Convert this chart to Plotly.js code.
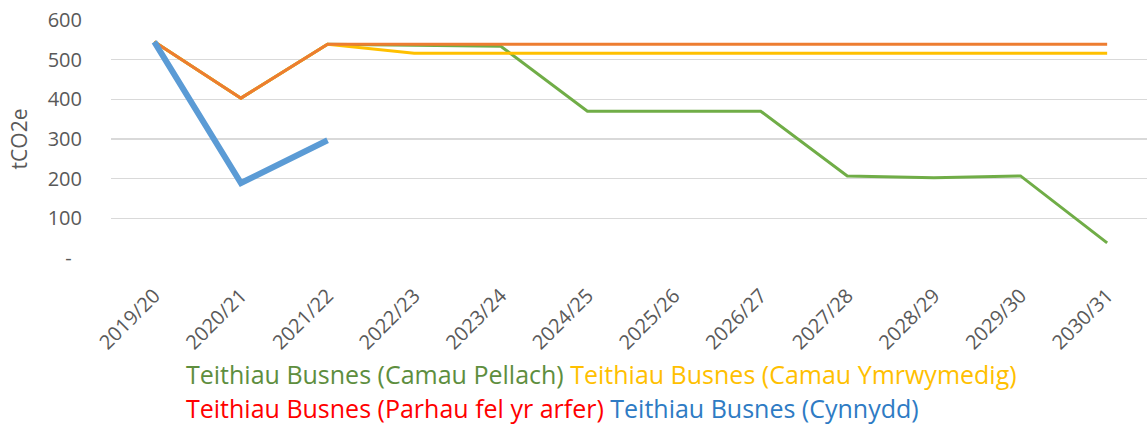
<!DOCTYPE html>
<html>
<head>
<meta charset="utf-8">
<script src="https://cdn.plot.ly/plotly-3.0.1.min.js"></script>
<style>html,body{margin:0;padding:0;background:#fff;}#chart{width:1147px;height:426px;}</style>
</head>
<body>
<div id="chart"></div>
<script>
const years = ["2019/20","2020/21","2021/22","2022/23","2023/24","2024/25","2025/26","2026/27","2027/28","2028/29","2029/30","2030/31"];
const seriesNames = ["Teithiau Busnes (Camau Pellach)","Teithiau Busnes (Camau Ymrwymedig)","Teithiau Busnes (Parhau fel yr arfer)","Teithiau Busnes (Cynnydd)"];
const camauPellach = [545, 403, 539, 537, 534, 370, 370, 370, 207, 202, 207, 38];
const camauYmrwymedig = [545, 403, 539, 516, 516, 516, 516, 516, 516, 516, 516, 516];
const parhauFelYrArfer = [545, 403, 539, 539, 539, 539, 539, 539, 539, 539, 539, 539];
const cynnydd = [545, 189, 297];
const yTickVals = [0, 100, 200, 300, 400, 500, 600];
const yTickText = ["-\u00a0\u00a0", "100", "200", "300", "400", "500", "600"];

const lineColors = ["#70AD47", "#FFC000", "#ED7D31", "#5B9BD5"];
const textColors = ["#5E8E3E", "#FFC000", "#FF0000", "#2E7BC4"];
const widths = [3, 3, 3, 6];
const values = [camauPellach, camauYmrwymedig, parhauFelYrArfer, cynnydd];

const traces = values.map((v, i) => ({
  type: "scatter", mode: "lines",
  x: years.slice(0, v.length), y: v,
  name: seriesNames[i],
  line: {color: lineColors[i], width: widths[i]},
  showlegend: false, hoverinfo: "skip"
}));

const font = "Open Sans, sans-serif";
const span = (i) => '<span style="color:' + textColors[i] + '">' + seriesNames[i] + '</span>';

const layout = {
  width: 1147, height: 426,
  margin: {l: 111, r: 0, t: 20, b: 168},
  paper_bgcolor: "#fff", plot_bgcolor: "#fff",
  font: {family: font, color: "#595959", size: 20},
  xaxis: {
    type: "category", categoryorder: "array", categoryarray: years,
    range: [-0.5, 11.46], showgrid: false, zeroline: false, showline: false,
    tickangle: -45, ticks: "", ticklabelstandoff: 21,
    tickfont: {family: font, size: 20, color: "#595959"}
  },
  yaxis: {
    range: [0, 600], tickvals: yTickVals, ticktext: yTickText,
    showgrid: true, gridcolor: "#D9D9D9", gridwidth: 1.5,
    zeroline: false, showline: false, ticks: "", ticklabelstandoff: 28,
    tickfont: {family: font, size: 20, color: "#595959"},
    title: {text: "tCO2e", standoff: 14, font: {family: font, size: 21, color: "#595959"}}
  },
  annotations: [
    {xref: "paper", yref: "paper", x: (185 - 111) / 1036, y: (258 - 374) / 238, xanchor: "left", yanchor: "middle",
     showarrow: false, borderpad: 0, text: span(0) + " " + span(1), font: {family: font, size: 25}},
    {xref: "paper", yref: "paper", x: (185 - 111) / 1036, y: (258 - 408) / 238, xanchor: "left", yanchor: "middle",
     showarrow: false, borderpad: 0, text: span(2) + " " + span(3), font: {family: font, size: 25}}
  ]
};

Plotly.newPlot("chart", traces, layout, {displayModeBar: false, staticPlot: true});
</script>
</body>
</html>
